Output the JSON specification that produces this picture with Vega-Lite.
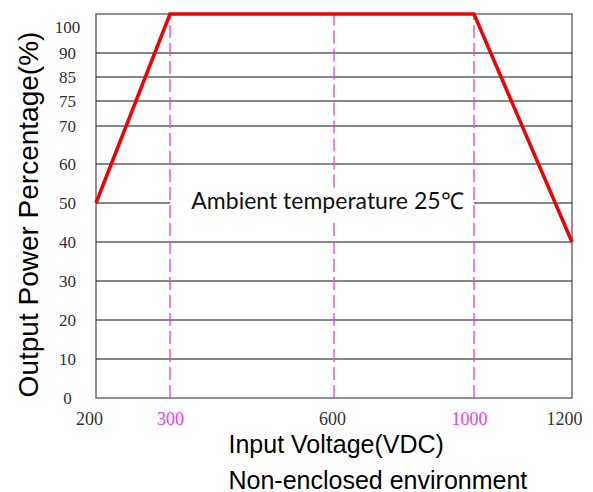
{
  "$schema": "https://vega.github.io/schema/vega-lite/v6.json",
  "width": 476,
  "height": 384,
  "autosize": {"type": "none"},
  "padding": {"left": 96, "top": 14, "right": 21, "bottom": 94},
  "background": "white",
  "config": {"view": {"stroke": "#6e6e6e", "strokeWidth": 1.5}},
  "datasets": {
    "grid": [
      {"v": 200, "v2": 1200, "p": 10, "p2": 10},
      {"v": 200, "v2": 1200, "p": 20, "p2": 20},
      {"v": 200, "v2": 1200, "p": 30, "p2": 30},
      {"v": 200, "v2": 1200, "p": 40, "p2": 40},
      {"v": 200, "v2": 300, "p": 50, "p2": 50},
      {"v": 1000, "v2": 1200, "p": 50, "p2": 50},
      {"v": 200, "v2": 1200, "p": 60, "p2": 60},
      {"v": 200, "v2": 1200, "p": 70, "p2": 70},
      {"v": 200, "v2": 1200, "p": 75, "p2": 75},
      {"v": 200, "v2": 1200, "p": 85, "p2": 85},
      {"v": 200, "v2": 1200, "p": 90, "p2": 90}
    ],
    "dashed": [
      {"v": 300, "v2": 300, "p": 0, "p2": 100},
      {"v": 600, "v2": 600, "p": 0, "p2": 46},
      {"v": 600, "v2": 600, "p": 54, "p2": 100},
      {"v": 1000, "v2": 1000, "p": 0, "p2": 100}
    ],
    "curve": [
      {"v": 200, "p": 50},
      {"v": 300, "p": 100},
      {"v": 1000, "p": 100},
      {"v": 1200, "p": 40}
    ],
    "note": [
      {"v": 588, "p": 48.5, "label": "Ambient temperature 25℃"}
    ]
  },
  "encoding": {
    "x": {
      "field": "v",
      "type": "quantitative",
      "scale": {"domain": [200, 300, 600, 1000, 1200], "range": [0, 74, 238, 378, 476], "nice": false, "zero": false},
      "axis": {
        "values": [200, 300, 600, 1000, 1200],
        "format": "d",
        "domain": false,
        "ticks": false,
        "tickSize": 0,
        "grid": false,
        "labelFont": "Liberation Serif",
        "labelFontSize": 18,
        "labelColor": {"condition": {"test": "datum.value == 300 || datum.value == 1000", "value": "#ee3cee"}, "value": "#333333"},
        "labelPadding": 12,
        "labelOffset": {"condition": [
          {"test": "datum.value == 200", "value": -7},
          {"test": "datum.value == 600", "value": -2},
          {"test": "datum.value == 1000", "value": -5},
          {"test": "datum.value == 1200", "value": -8}
        ], "value": 0},
        "labelFlush": false,
        "labelOverlap": false,
        "title": ["Input Voltage(VDC)", "Non-enclosed environment"],
        "titleFont": "Liberation Sans",
        "titleFontSize": 25,
        "titleFontWeight": "normal",
        "titleColor": "#000000",
        "titleAlign": "left",
        "titleBaseline": "alphabetic",
        "titleX": 132,
        "titleY": 54,
        "titleLineHeight": 36
      }
    },
    "y": {
      "field": "p",
      "type": "quantitative",
      "scale": {"domain": [0, 60, 70, 75, 85, 90, 100], "range": [384, 150, 112, 87, 63, 39, 0], "nice": false, "zero": false},
      "axis": {
        "values": [0, 10, 20, 30, 40, 50, 60, 70, 75, 85, 90, 100],
        "domain": false,
        "ticks": false,
        "tickSize": 0,
        "grid": false,
        "labelFont": "Liberation Serif",
        "labelFontSize": 17,
        "labelColor": "#2e2e3a",
        "labelAlign": "center",
        "labelPadding": 29,
        "labelOffset": {"condition": {"test": "datum.value == 100", "value": 13}, "value": 0},
        "labelFlush": false,
        "labelOverlap": false,
        "title": "Output Power Percentage(%)",
        "titleFont": "Liberation Sans",
        "titleFontSize": 28,
        "titleFontWeight": "normal",
        "titleColor": "#000000",
        "titleAngle": -90,
        "titleAlign": "center",
        "titleBaseline": "alphabetic",
        "titleX": -59,
        "titleY": 200
      }
    }
  },
  "layer": [
    {
      "data": {"name": "grid"},
      "mark": {"type": "rule", "color": "#111111", "strokeWidth": 1},
      "encoding": {"x2": {"field": "v2"}, "y2": {"field": "p2"}}
    },
    {
      "data": {"name": "dashed"},
      "mark": {"type": "rule", "color": "#e93de9", "strokeWidth": 1.3, "strokeDash": [13, 5]},
      "encoding": {"x2": {"field": "v2"}, "y2": {"field": "p2"}}
    },
    {
      "data": {"name": "curve"},
      "mark": {"type": "line", "color": "#f00000", "strokeWidth": 3.5, "clip": false},
      "encoding": {}
    },
    {
      "data": {"name": "note"},
      "mark": {"type": "text", "font": "Lato", "fontSize": 23, "color": "#111111", "align": "center", "baseline": "alphabetic"},
      "encoding": {"text": {"field": "label"}}
    }
  ]
}
